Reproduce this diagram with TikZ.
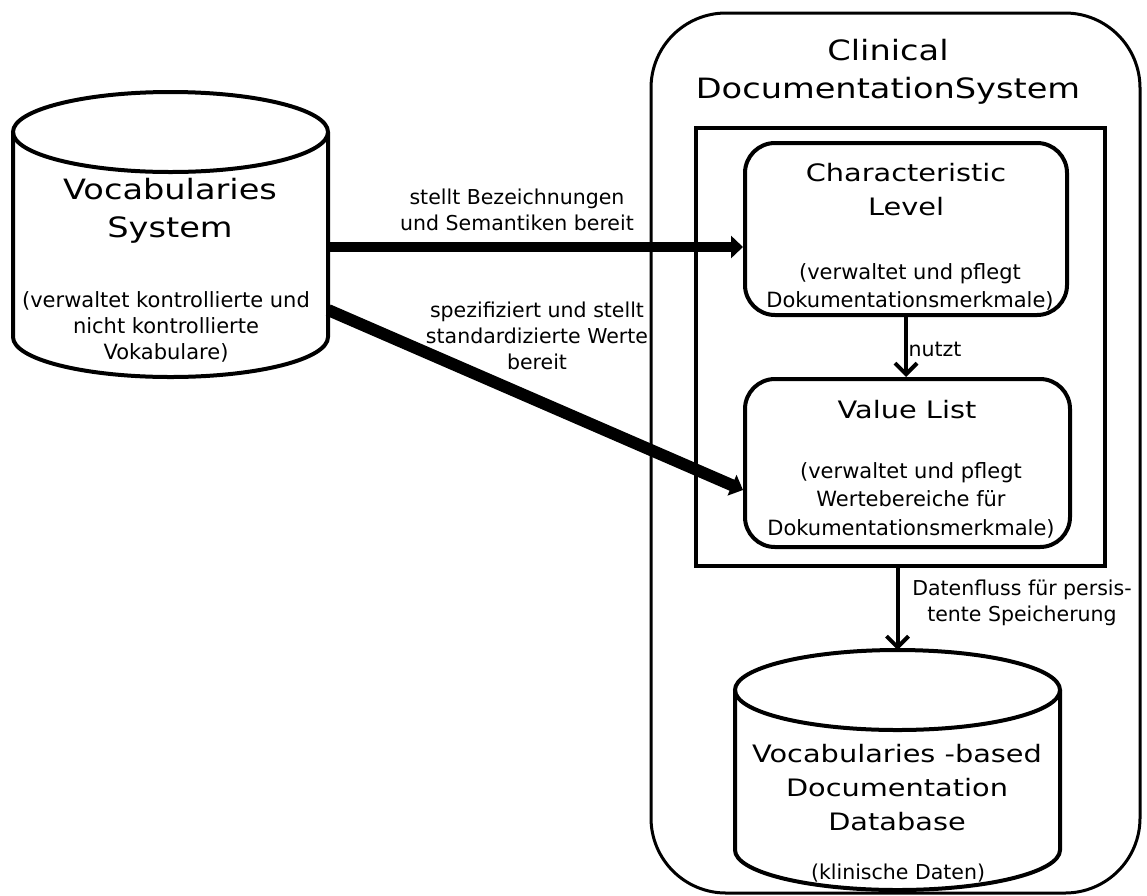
\documentclass[tikz,border=0pt]{standalone}
\usepackage{fontspec}
\setmainfont{DejaVu Sans}
\newfontfamily\widefont{DejaVu Sans}[FakeStretch=1.2]
\usetikzlibrary{arrows.meta}

\begin{document}
\begin{tikzpicture}[x=1pt,y=-1pt,
  outline/.style={line width=4pt},
  big/.style={font=\widefont\fontsize{28}{38}\selectfont, align=center, inner sep=0pt},
  mid/.style={font=\widefont\fontsize{24}{34}\selectfont, align=center, inner sep=0pt},
  small/.style={font=\fontsize{20.5}{26}\selectfont, align=center, inner sep=0pt},
  note/.style={font=\fontsize{21}{28.5}\selectfont, align=center, inner sep=0pt},
  feed/.style={line width=10pt, -{Triangle[length=12pt,width=22pt]}},
  flow/.style={line width=4pt, -{Straight Barb[length=11pt,width=22pt]}},
  box/.style={draw, line width=4pt, rounded corners=30pt, inner sep=0pt},
]
\useasboundingbox (0,0) rectangle (1147,895);

% clinical documentation system frame
\node[draw, line width=3pt, rounded corners=75pt, inner sep=0pt,
      minimum width=489pt, minimum height=880pt] (cds) at (895.5,453) {};
\node[big] (cdstitle) at (888,72) {Clinical\\DocumentationSystem};

% inner frame holding the two levels
\node[draw, line width=4pt, inner sep=0pt,
      minimum width=409pt, minimum height=438pt] (inner) at (900.5,347) {};

% characteristic level
\node[box, minimum width=322pt, minimum height=172pt] (char) at (906,229) {};
\node[mid] (chartitle) at (906,190) {Characteristic\\Level};
\node[note] (chartext) at (910,287) {(verwaltet und pflegt\\Dokumentationsmerkmale)};

% value list
\node[box, minimum width=325pt, minimum height=168pt] (value) at (907.5,463) {};
\node[mid] (valtitle) at (907,410) {Value List};
\node[note] (valtext) at (911,500) {(verwaltet und pflegt\\Wertebereiche für\\Dokumentationsmerkmale)};

% vocabularies system cylinder
\draw[outline] (170.5,132) ellipse [x radius=157.5pt, y radius=40pt];
\draw[outline] (13,132) -- (13,337)
  arc [start angle=180, end angle=360, x radius=157.5pt, y radius=40pt] -- (328,132);
\path node[minimum width=315pt, minimum height=205pt, inner sep=0pt] (vocab) at (170.5,234.5) {};
\node[big] (vocabtitle) at (170,211) {Vocabularies\\System};
\node[note, font=\fontsize{21}{26}\selectfont] (vocabtext) at (166,327) {(verwaltet kontrollierte und\\nicht kontrollierte\\Vokabulare)};

% documentation database cylinder
\draw[outline] (897.5,690) ellipse [x radius=162.5pt, y radius=40pt];
\draw[outline] (735,690) -- (735,850)
  arc [start angle=180, end angle=360, x radius=162.5pt, y radius=40pt] -- (1060,690);
\coordinate (dbtop) at (897.5,650);
\node[mid] (dbtitle) at (897,788) {Vocabularies -based\\Documentation\\Database};
\node[small] (dbtext) at (898,873) {(klinische Daten)};

% connectors
\draw[feed] (vocab.east |- 0,247) -- (char.west |- 0,247);
\node[small] (lab1) at (517,210) {stellt Bezeichnungen\\und Semantiken bereit};

\draw[feed, line width=12pt] (vocab.east |- 0,310) -- (value.west |- 0,490);
\node[small] (lab2) at (537,336) {spezifiziert und stellt\\standardizierte Werte\\bereit};

\draw[flow] (char.south) -- (char.south |- value.north);
\node[small] (lab3) at (935,349) {nutzt};

\draw[flow] (inner.south -| dbtop) -- (dbtop);
\node[small] (lab4) at (1022,603) {Datenfluss für persis-\\tente Speicherung};
\end{tikzpicture}
\end{document}
